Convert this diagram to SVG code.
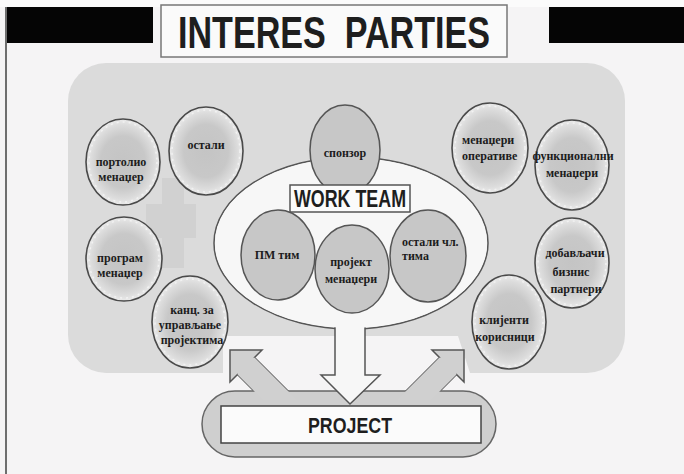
<svg xmlns="http://www.w3.org/2000/svg" width="684" height="474" viewBox="0 0 684 474">
<defs>
<radialGradient id="mott" cx="0.5" cy="0.5" r="0.5">
<stop offset="0" stop-color="#c4c4c4"/>
<stop offset="0.6" stop-color="#c8c8c8"/>
<stop offset="0.86" stop-color="#dcdcdc"/>
<stop offset="1" stop-color="#ebebeb"/>
</radialGradient>
<style>
.bub{fill:url(#mott);stroke:#4a4a4a;stroke-width:1.6}
.ring{fill:none;stroke:#f2f2f2;stroke-width:1.5;stroke-dasharray:2 4}
.wt{fill:#c7c7c7;stroke:#555;stroke-width:1.5}
.lbl{font-family:"Liberation Serif","DejaVu Serif",serif;font-weight:bold;font-size:12px;fill:#1c1c1c;text-anchor:middle}
.lbll{font-family:"Liberation Serif","DejaVu Serif",serif;font-weight:bold;font-size:12px;fill:#1c1c1c;text-anchor:start}
.hd{font-family:"Liberation Sans Narrow","Liberation Sans",Arial,sans-serif;font-weight:bold;fill:#1e1e1e;text-anchor:middle}
.arw{fill:#d0d0d0;stroke:#555;stroke-width:1.5;stroke-linejoin:miter}
.arwf{fill:#d0d0d0;stroke:none}
.wht{fill:#f7f7f7;stroke:#555;stroke-width:1.5}
.whtf{fill:#f7f7f7;stroke:none}
</style>
</defs>

<!-- background -->
<rect x="0" y="0" width="684" height="474" fill="#f5f4f5"/>
<rect x="0" y="0" width="684" height="7" fill="#fbfbfb"/>
<rect x="6" y="7" width="147" height="36" fill="#050505"/>
<rect x="549" y="7" width="135" height="36" fill="#050505"/>
<line x1="6" y1="7" x2="6" y2="474" stroke="#6e6e6e" stroke-width="2"/>

<!-- gray panel -->
<rect x="68" y="63" width="557" height="310" rx="38" ry="38" fill="#dbdbdb"/>
<path d="M223,336 L458,336 L470,373 L223,373 Z" fill="#f5f4f5"/>
<g fill="#d1d1d1">
<rect x="146" y="204" width="50" height="34"/>
<rect x="162" y="178" width="22" height="90"/>
</g>

<!-- title -->
<g id="title">
<rect x="161" y="5" width="346" height="52" fill="#fafafa" stroke="#777" stroke-width="1.5"/>
<text class="hd" x="334" y="48" font-size="44" textLength="312" lengthAdjust="spacingAndGlyphs" xml:space="preserve">INTERES  PARTIES</text>
</g>

<!-- connectors -->
<g id="connectors">
<path class="arw" d="M230,350 L262,350 L254.5,357.5 L297,400 L263,400 L237.5,374.5 L230,382 Z"/>
<path class="arw" d="M464,350 L432,350 L439.5,357.5 L397,400 L431,400 L456.5,374.5 L464,382 Z"/>
</g>

<!-- project -->
<g id="project">
<rect x="202" y="391" width="294" height="66" rx="33" ry="33" fill="#cfcfcf" stroke="#666" stroke-width="1.5"/>
<path class="arwf" d="M254.5,357.5 L297,400 L263,400 L237.5,374.5 Z"/>
<path class="arwf" d="M439.5,357.5 L397,400 L431,400 L456.5,374.5 Z"/>
<rect x="221" y="406" width="260" height="37" fill="#fbfbfb" stroke="#444" stroke-width="1.5"/>
<text class="hd" x="350" y="433" font-size="22" textLength="84" lengthAdjust="spacingAndGlyphs">PROJECT</text>
</g>

<!-- work team ellipse with down arrow -->
<g id="workteam">
<ellipse class="wht" cx="351" cy="243" rx="137" ry="86"/>
<path class="wht" d="M335,310 L335,375 L321,375 L350,404 L380,375 L365,375 L365,310 Z"/>
<ellipse class="whtf" cx="351" cy="243" rx="136" ry="85"/>
<rect class="whtf" x="336" y="300" width="28" height="76"/>
</g>

<!-- outer bubbles -->
<g id="portfolio">
<ellipse class="bub" cx="123" cy="162" rx="37" ry="43"/>
<ellipse class="ring" cx="123" cy="162" rx="34" ry="40"/>
<text class="lbl" x="121" y="166">портолио</text>
<text class="lbl" x="121" y="181">менаџер</text>
</g>
<g id="ostali">
<ellipse class="bub" cx="206" cy="151" rx="37" ry="44"/>
<ellipse class="ring" cx="206" cy="151" rx="34" ry="41"/>
<text class="lbl" x="206" y="149">остали</text>
</g>
<g id="program">
<ellipse class="bub" cx="124" cy="259" rx="38" ry="42"/>
<ellipse class="ring" cx="124" cy="259" rx="35" ry="39"/>
<text class="lbl" x="120" y="262">програм</text>
<text class="lbl" x="120" y="277">менаџер</text>
</g>
<g id="kanc">
<ellipse class="bub" cx="190" cy="322" rx="38" ry="46"/>
<ellipse class="ring" cx="190" cy="322" rx="35" ry="43"/>
<text class="lbl" x="192" y="314">канц. за</text>
<text class="lbl" x="190" y="329">управљање</text>
<text class="lbl" x="192" y="344">пројектима</text>
</g>
<g id="sponzor">
<ellipse class="wt" cx="345" cy="150" rx="35" ry="45" fill="#bfbfbf"/>
<text class="lbl" x="345" y="157">спонзор</text>
</g>
<g id="operative">
<ellipse class="bub" cx="490" cy="148" rx="38" ry="45"/>
<ellipse class="ring" cx="490" cy="148" rx="35" ry="42"/>
<text class="lbll" x="462" y="144">менаџери</text>
<text class="lbll" x="462" y="160">оперативе</text>
</g>
<g id="funkcionalni">
<ellipse class="bub" cx="572" cy="165" rx="37" ry="45"/>
<ellipse class="ring" cx="572" cy="165" rx="34" ry="42"/>
<text class="lbl" x="573" y="160">функционални</text>
<text class="lbl" x="572" y="177">менаџери</text>
</g>
<g id="dobavljaci">
<ellipse class="bub" cx="572" cy="263" rx="37" ry="45"/>
<ellipse class="ring" cx="572" cy="263" rx="34" ry="42"/>
<text class="lbl" x="575" y="257">добављачи</text>
<text class="lbl" x="571" y="276">бизнис</text>
<text class="lbl" x="576" y="293">партнери</text>
</g>
<g id="klijenti">
<ellipse class="bub" cx="509" cy="322" rx="37" ry="47"/>
<ellipse class="ring" cx="509" cy="322" rx="34" ry="44"/>
<text class="lbl" x="504" y="324">клијенти</text>
<text class="lbl" x="505" y="341">корисници</text>
</g>

<!-- work team circles -->
<g id="pmtim">
<ellipse class="wt" cx="278" cy="255" rx="37" ry="45"/>
<text class="lbl" x="277" y="259">ПМ тим</text>
</g>
<g id="ostaliclanovi">
<ellipse class="wt" cx="428" cy="256" rx="38" ry="46"/>
<text class="lbll" x="402" y="246">остали чл.</text>
<text class="lbll" x="402" y="260">тима</text>
</g>
<g id="projektmenadzeri">
<ellipse class="wt" cx="352" cy="269" rx="37" ry="44"/>
<text class="lbl" x="351" y="266">пројект</text>
<text class="lbl" x="351" y="283">менаџери</text>
</g>
<g id="workteamlabel">
<rect x="290" y="185" width="120" height="27" fill="#fbfbfb" stroke="#555" stroke-width="1.5"/>
<text class="hd" x="350" y="207" font-size="24" textLength="112" lengthAdjust="spacingAndGlyphs">WORK TEAM</text>
</g>
</svg>
